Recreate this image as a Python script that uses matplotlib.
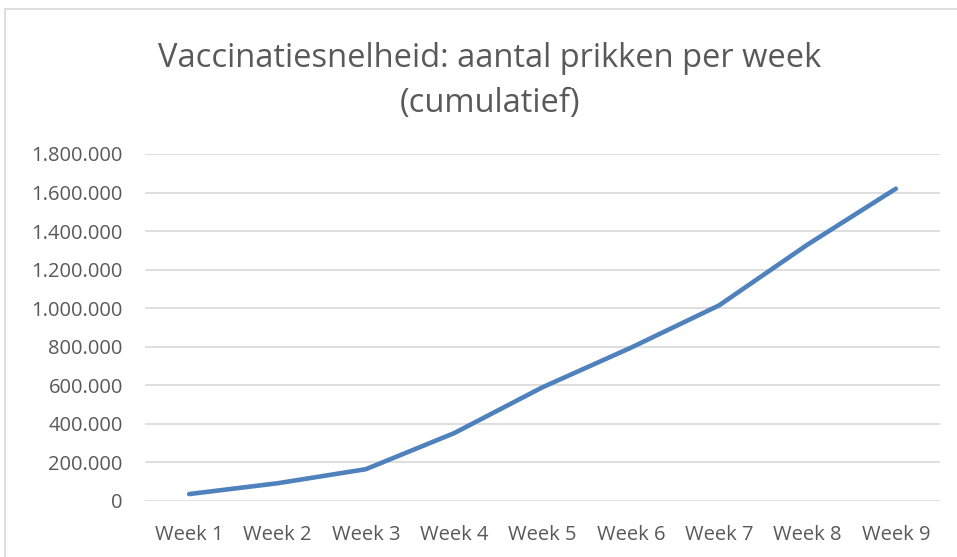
import matplotlib
matplotlib.use("Agg")
import matplotlib.pyplot as plt
from matplotlib.patches import Rectangle
from matplotlib.ticker import FuncFormatter

# Data
weeks = ["Week 1", "Week 2", "Week 3", "Week 4", "Week 5",
         "Week 6", "Week 7", "Week 8", "Week 9"]
prikken = [36000, 92000, 165000, 352000, 590000,
           795000, 1015000, 1330000, 1620000]
y_ticks = [0, 200000, 400000, 600000, 800000, 1000000,
           1200000, 1400000, 1600000, 1800000]

plt.rcParams['font.family'] = ['Open Sans', 'DejaVu Sans']

fig = plt.figure(figsize=(9.57, 5.57), dpi=100)
ax = fig.add_axes([145 / 957, 1 - 501 / 557, 795 / 957, 347 / 557])

# Chart border (light gray frame like Excel)
fig.patches.append(Rectangle((5 / 957, -0.1), 1.2, 1 - 9 / 557 + 0.1,
                             transform=fig.transFigure, fill=False,
                             edgecolor="#d9d9d9", linewidth=1.2))

x = list(range(len(weeks)))
ax.plot(x, prikken, color="#4f81bd", linewidth=3.3,
        solid_capstyle="round", solid_joinstyle="round", zorder=3)

ax.set_xlim(-0.5, len(weeks) - 0.5)
ax.set_ylim(0, 1800000)
ax.set_xticks(x)
ax.set_xticklabels(weeks)
ax.set_yticks(y_ticks)

def dutch(v, pos):
    return f"{int(v):,}".replace(",", ".")

ax.yaxis.set_major_formatter(FuncFormatter(dutch))
ax.grid(axis="y", color="#d9d9d9", linewidth=1.2)
ax.set_axisbelow(True)
for s in ax.spines.values():
    s.set_visible(False)
ax.tick_params(axis="both", length=0, labelsize=14.5, labelcolor="#595959")
ax.tick_params(axis="x", pad=17)
ax.tick_params(axis="y", pad=16)

fig.text(490 / 957, 1 - 81 / 557,
         "Vaccinatiesnelheid: aantal prikken per week\n(cumulatief)",
         ha="center", va="center", fontsize=23.5, color="#595959",
         linespacing=1.45)

fig.savefig("out.png", dpi=100)
